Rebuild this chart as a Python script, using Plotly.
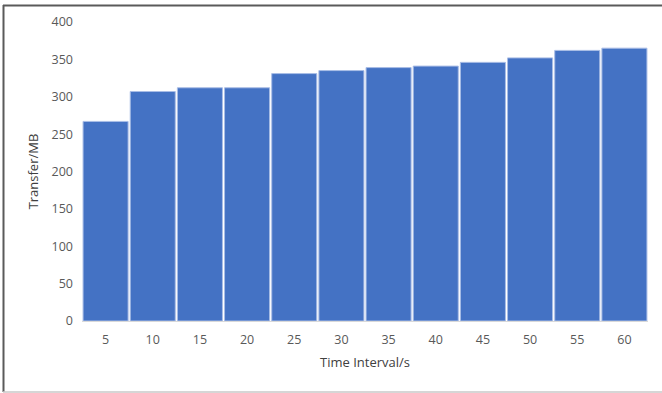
import plotly.graph_objects as go

# Transfer volume per sampling interval
intervals = ["5", "10", "15", "20", "25", "30", "35", "40", "45", "50", "55", "60"]
transfer_mb = [267, 307, 312, 312, 331, 335, 339, 341, 346, 352, 362, 365]
y_ticks = [0, 50, 100, 150, 200, 250, 300, 350, 400]

W, H = 662, 393
ML, MR, MT, MB = 82, 14, 22, 72
PW, PH = W - ML - MR, H - MT - MB


def px_x(px):
    return (px - ML) / PW


def px_y(py):
    return (H - MB - py) / PH


fig = go.Figure(
    go.Bar(
        x=intervals,
        y=transfer_mb,
        marker=dict(color="#4472C4", line=dict(color="#a9bde6", width=1)),
        hoverinfo="x+y",
    )
)

tick_font = dict(family="Open Sans, Noto Sans, sans-serif", size=12.5, color="#595959")
title_font = dict(family="Open Sans, Noto Sans, sans-serif", size=13, color="#404040")

fig.update_layout(
    width=W,
    height=H,
    margin=dict(l=ML, r=MR, t=MT, b=MB),
    paper_bgcolor="white",
    plot_bgcolor="white",
    bargap=0.045,
    showlegend=False,
    xaxis=dict(
        type="category",
        showline=True,
        linecolor="#d9d9d9",
        linewidth=1,
        ticks="",
        showgrid=False,
        ticklabelstandoff=7,
        tickfont=tick_font,
        title=dict(text="Time Interval/s", font=title_font, standoff=10),
    ),
    yaxis=dict(
        range=[0, 400],
        tickvals=y_ticks,
        showgrid=False,
        zeroline=False,
        showline=False,
        ticks="",
        ticklabelstandoff=8,
        tickfont=tick_font,
        title=dict(text="Transfer/MB", font=title_font, standoff=9),
    ),
    shapes=[
        # outer frame: dark top and left edges, light bottom edge
        dict(type="line", xref="paper", yref="paper",
             x0=px_x(3), x1=px_x(W), y0=px_y(5.5), y1=px_y(5.5),
             line=dict(color="#5a5a5a", width=2)),
        dict(type="line", xref="paper", yref="paper",
             x0=px_x(3.5), x1=px_x(3.5), y0=px_y(5), y1=px_y(392),
             line=dict(color="#5a5a5a", width=2)),
        dict(type="line", xref="paper", yref="paper",
             x0=px_x(3), x1=px_x(W), y0=px_y(392), y1=px_y(392),
             line=dict(color="#c8c8c8", width=1.5)),
    ],
)

fig.write_html("out.html")
